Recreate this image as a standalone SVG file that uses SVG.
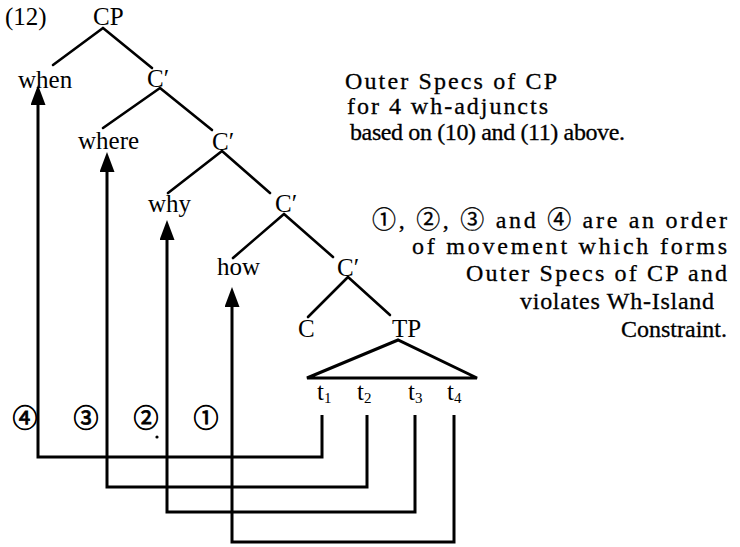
<svg xmlns="http://www.w3.org/2000/svg" width="740" height="547" viewBox="0 0 740 547">
<defs>
<style>
.t{font-family:"Liberation Serif",serif;font-size:25px;fill:#000}
.r{font-family:"Liberation Serif",serif;font-size:24px;fill:#000;stroke:#000;stroke-width:0.3}
.k{font-family:"Noto Sans CJK KR","DejaVu Sans",sans-serif}
.c{font-family:"Noto Sans CJK KR","DejaVu Sans",sans-serif;font-size:25px;fill:#000;stroke:#000;stroke-width:0.8}
.s{font-size:15px}
.e{stroke:#000;stroke-width:2.6;fill:none;stroke-linecap:round}
.m{stroke:#000;stroke-width:3;fill:none;stroke-linejoin:miter}
</style>
<marker id="ah" viewBox="0 0 20 15" refX="0" refY="7.5" markerWidth="20" markerHeight="15" markerUnits="userSpaceOnUse" orient="auto">
<path d="M0,0 L20,7.5 L0,15 z" fill="#000"/>
</marker>
</defs>
<rect width="740" height="547" fill="#fff"/>
<text class="t" x="5" y="25">(12)</text>
<g id="n-cp"><text class="t" x="93" y="25">CP</text></g>
<g id="n-when"><text class="t" x="18" y="88">when</text></g>
<g id="n-c1"><text class="t" x="147" y="87">C′</text></g>
<g id="n-where"><text class="t" x="78" y="149">where</text></g>
<g id="n-c2"><text class="t" x="212" y="150">C′</text></g>
<g id="n-why"><text class="t" x="148" y="212">why</text></g>
<g id="n-c3"><text class="t" x="275" y="212">C′</text></g>
<g id="n-how"><text class="t" x="217" y="275">how</text></g>
<g id="n-c4"><text class="t" x="337" y="276">C′</text></g>
<g id="n-c"><text class="t" x="298" y="337">C</text></g>
<g id="n-tp"><text class="t" x="392" y="337">TP</text>
<path class="m" d="M398,340 L307,378 L477,378 Z"/></g>
<g id="n-t1"><text class="t" x="317" y="400">t<tspan class="s" dy="3">1</tspan></text></g>
<g id="n-t2"><text class="t" x="357" y="400">t<tspan class="s" dy="3">2</tspan></text></g>
<g id="n-t3"><text class="t" x="408" y="400">t<tspan class="s" dy="3">3</tspan></text></g>
<g id="n-t4"><text class="t" x="447" y="400">t<tspan class="s" dy="3">4</tspan></text></g>
<g id="labels">
<text class="c" x="25" y="427" text-anchor="middle">④</text>
<text class="c" x="86" y="427" text-anchor="middle">③</text>
<text class="c" x="146" y="427" text-anchor="middle">②</text>
<text class="c" x="206" y="427" text-anchor="middle">①</text>
<circle cx="157" cy="437" r="1.6" fill="#000"/>
</g>
<g id="note1">
<text class="r" x="345" y="89" textLength="212" lengthAdjust="spacing">Outer Specs of CP</text>
<text class="r" x="347" y="114" textLength="201" lengthAdjust="spacing">for 4 wh-adjuncts</text>
<text class="r" x="350" y="140" textLength="275" lengthAdjust="spacing">based on (10) and (11) above.</text>
</g>
<g id="note2">
<text class="r" x="727" y="228" text-anchor="end" textLength="355" lengthAdjust="spacing"><tspan class="k">①</tspan>, <tspan class="k">②</tspan>, <tspan class="k">③</tspan> and <tspan class="k">④</tspan> are an order</text>
<text class="r" x="727" y="254" text-anchor="end" textLength="315" lengthAdjust="spacing">of movement which forms</text>
<text class="r" x="727" y="281" text-anchor="end" textLength="261" lengthAdjust="spacing">Outer Specs of CP and</text>
<text class="r" x="714" y="309" text-anchor="end" textLength="194" lengthAdjust="spacing">violates Wh-Island</text>
<text class="r" x="727" y="337" text-anchor="end" textLength="106" lengthAdjust="spacing">Constraint.</text>
</g>
<g id="connectors">
<path class="e" d="M103,28 L53,65 M103,28 L152,68"/>
<path class="e" d="M160,88 L103,128 M160,88 L212,130"/>
<path class="e" d="M222,151 L168,193 M222,151 L270,193"/>
<path class="e" d="M284,214 L233,258 M284,214 L333,257"/>
<path class="e" d="M348,277 L308,317 M348,277 L390,315"/>
<path class="m" d="M322,415 V457 H38 V105" marker-end="url(#ah)"/>
<path class="m" d="M367,415 V487 H107 V172" marker-end="url(#ah)"/>
<path class="m" d="M415,415 V512 H167 V240" marker-end="url(#ah)"/>
<path class="m" d="M454,415 V542 H232 V307" marker-end="url(#ah)"/>
</g>
</svg>
